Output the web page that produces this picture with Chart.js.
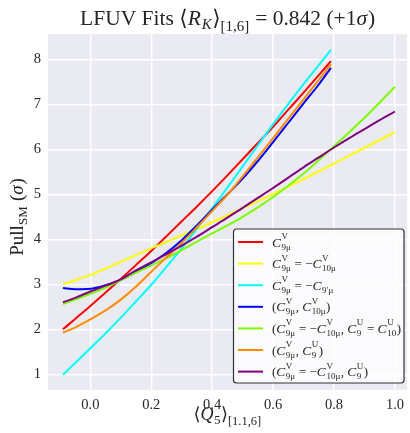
<!DOCTYPE html>
<html>
<head>
<meta charset="utf-8">
<script src="https://cdn.jsdelivr.net/npm/chart.js@4"></script>
<style>
  html, body { margin: 0; padding: 0; background: #ffffff; }
  #wrap { width: 410px; height: 433px; }
</style>
</head>
<body>
<div id="wrap"><canvas id="c" width="410" height="433"></canvas></div>
<script>
// <Q5> values scanned; four fits stop before the end of the range
const qShort = [-0.09, -0.05, 0.00, 0.05, 0.10, 0.15, 0.20, 0.25, 0.30, 0.35, 0.40,
                0.45, 0.50, 0.55, 0.60, 0.65, 0.70, 0.75, 0.79];
const qLong  = [-0.09, -0.05, 0.00, 0.05, 0.10, 0.15, 0.20, 0.25, 0.30, 0.35, 0.40,
                0.45, 0.50, 0.55, 0.60, 0.65, 0.70, 0.75, 0.80, 0.85, 0.90, 0.95, 1.00];

// Pull from the SM (sigma) for each scenario
const pullC9V          = [2.00, 2.23, 2.52, 2.82, 3.12, 3.43, 3.74, 4.07, 4.40, 4.73, 5.07,
                          5.42, 5.78, 6.14, 6.50, 6.88, 7.26, 7.65, 7.96];
const pullC9eqMinusC10 = [3.00, 3.09, 3.21, 3.35, 3.50, 3.65, 3.80, 3.94, 4.09, 4.23, 4.38,
                          4.53, 4.69, 4.85, 5.01, 5.17, 5.34, 5.51, 5.68, 5.86, 6.03, 6.21, 6.38];
const pullC9eqMinusC9p = [0.99, 1.25, 1.58, 1.91, 2.26, 2.62, 2.99, 3.39, 3.80, 4.24, 4.69,
                          5.15, 5.62, 6.09, 6.56, 7.01, 7.45, 7.87, 8.21];
const pullC9C10        = [2.92, 2.89, 2.90, 2.98, 3.10, 3.27, 3.47, 3.70, 3.98, 4.31, 4.66,
                          5.00, 5.35, 5.74, 6.16, 6.59, 7.02, 7.44, 7.81];
const pullC9C10U       = [2.56, 2.66, 2.79, 2.93, 3.09, 3.26, 3.42, 3.58, 3.76, 3.95, 4.13,
                          4.31, 4.50, 4.71, 4.94, 5.19, 5.46, 5.76, 6.07, 6.38, 6.70, 7.04, 7.39];
const pullC9C9U        = [1.93, 2.04, 2.22, 2.42, 2.66, 2.95, 3.28, 3.60, 3.92, 4.27, 4.63,
                          4.99, 5.40, 5.82, 6.25, 6.68, 7.11, 7.54, 7.89];
const pullC9C10C9U     = [2.60, 2.70, 2.84, 2.97, 3.11, 3.31, 3.49, 3.67, 3.86, 4.06, 4.27,
                          4.48, 4.70, 4.92, 5.14, 5.37, 5.60, 5.82, 6.04, 6.25, 6.45, 6.65, 6.84];

// Scenario labels: C{sub}{sup} is a Wilson coefficient with sub/superscript
const scenarioLabels = [
  'C{9μ}{V}',
  'C{9μ}{V} = −C{10μ}{V}',
  'C{9μ}{V} = −C{9′μ}{}',
  '(C{9μ}{V}, C{10μ}{V})',
  '(C{9μ}{V} = −C{10μ}{V}, C{9}{U} = C{10}{U})',
  '(C{9μ}{V}, C{9}{U})',
  '(C{9μ}{V} = −C{10μ}{V}, C{9}{U})'
];

const xTicks = [0.0, 0.2, 0.4, 0.6, 0.8, 1.0];
const yTicks = [1, 2, 3, 4, 5, 6, 7, 8];

const SERIF = '"Liberation Serif", "DejaVu Serif", serif';
const INK = '#262626';

function pts(xs, ys) { return ys.map((y, i) => ({ x: xs[i], y: y })); }

const series = [
  { x: qShort, y: pullC9V,           color: '#ff0000' },
  { x: qLong,  y: pullC9eqMinusC10,  color: '#ffff00' },
  { x: qShort, y: pullC9eqMinusC9p,  color: '#00ffff' },
  { x: qShort, y: pullC9C10,         color: '#0000ff' },
  { x: qLong,  y: pullC9C10U,        color: '#7cfc00' },
  { x: qShort, y: pullC9C9U,         color: '#ff8c00' },
  { x: qLong,  y: pullC9C10C9U,      color: '#800080' }
];

// ---- small rich-text helpers (italics, sub/superscripts) ----
function font(size, it) { return (it ? 'italic ' : '') + size + 'px ' + SERIF; }

function parseLabel(str) {
  const segs = [];
  const re = /C\{([^}]*)\}\{([^}]*)\}/g;
  let last = 0, m;
  while ((m = re.exec(str))) {
    if (m.index > last) segs.push({ t: str.slice(last, m.index) });
    segs.push({ t: 'C', it: true, size: 13.5 });
    segs.push({ sub: m[1], sup: m[2] });
    last = re.lastIndex;
  }
  if (last < str.length) segs.push({ t: str.slice(last) });
  return segs;
}

function segWidth(ctx, s, o) {
  if (s.t !== undefined) {
    const sz = s.size || o.base;
    ctx.font = font(sz, s.it);
    return ctx.measureText(s.t).width + (s.it ? sz * 0.04 : 0);
  }
  ctx.font = font(o.small, s.it);
  const a = s.sub ? ctx.measureText(s.sub).width : 0;
  const b = s.sup ? ctx.measureText(s.sup).width : 0;
  return Math.max(a, b) + 0.5;
}

function richWidth(ctx, segs, o) {
  return segs.reduce((w, s) => w + segWidth(ctx, s, o), 0);
}

function drawRich(ctx, segs, x, y, o) {
  let cx = x;
  ctx.textBaseline = 'alphabetic';
  ctx.textAlign = 'left';
  for (const s of segs) {
    if (s.t !== undefined) {
      ctx.font = font(s.size || o.base, s.it);
      ctx.fillText(s.t, cx, y);
    } else {
      ctx.font = font(o.small, s.it);
      if (s.sub) ctx.fillText(s.sub, cx, y + (s.dy !== undefined ? s.dy : o.subDy));
      if (s.sup) ctx.fillText(s.sup, cx, y + o.supDy);
    }
    cx += segWidth(ctx, s, o);
  }
}

const titleSegs = [
  { t: 'LFUV Fits ' }, { t: '⟨' }, { t: 'R', it: true }, { sub: 'K', it: true },
  { t: '⟩' }, { sub: '[1,6]', dy: 6 }, { t: ' = 0.842 (+1' }, { t: 'σ', it: true }, { t: ')' }
];
const xTitleSegs = [
  { t: '⟨' }, { t: 'Q', it: true }, { sub: '5' }, { t: '⟩' }, { sub: '[1.1,6]', dy: 5 }
];
const yTitleSegs = [
  { t: 'Pull' }, { sub: 'SM' }, { t: ' (' }, { t: 'σ', it: true }, { t: ')' }
];

const decor = {
  id: 'decor',
  beforeDraw(chart) {
    const { ctx, chartArea: a } = chart;
    ctx.save();
    ctx.fillStyle = '#eaeaf2';
    ctx.fillRect(a.left, a.top, a.right - a.left, a.bottom - a.top);
    ctx.restore();
  },
  afterDraw(chart) {
    const { ctx, chartArea: a } = chart;
    const cx = (a.left + a.right) / 2;
    ctx.save();
    ctx.fillStyle = INK;

    // title
    const to = { base: 21.5, small: 15, subDy: 4, supDy: -8 };
    drawRich(ctx, titleSegs, cx - richWidth(ctx, titleSegs, to) / 2, 25, to);

    // x axis title
    const xo = { base: 18, small: 12.5, subDy: 3.5, supDy: -7 };
    drawRich(ctx, xTitleSegs, cx - richWidth(ctx, xTitleSegs, xo) / 2, 420, xo);

    // y axis title (rotated)
    const yo = { base: 19, small: 13, subDy: 3.5, supDy: -7 };
    ctx.save();
    ctx.translate(23, (a.top + a.bottom) / 2 + 5);
    ctx.rotate(-Math.PI / 2);
    drawRich(ctx, yTitleSegs, -richWidth(ctx, yTitleSegs, yo) / 2, 0, yo);
    ctx.restore();

    // legend
    const bx = 233.5, by = 229, bw = 170.5, bh = 154;
    ctx.beginPath();
    ctx.roundRect(bx, by, bw, bh, 3);
    ctx.fillStyle = 'rgba(255,255,255,0.8)';
    ctx.fill();
    ctx.lineWidth = 1.2;
    ctx.strokeStyle = 'rgba(0,0,0,0.8)';
    ctx.stroke();

    const lo = { base: 13, small: 9, subDy: 3, supDy: -7.5 };
    scenarioLabels.forEach((lab, i) => {
      const ry = 242 + i * 21.6;
      ctx.beginPath();
      ctx.moveTo(238, ry);
      ctx.lineTo(263, ry);
      ctx.lineWidth = 2;
      ctx.strokeStyle = series[i].color;
      ctx.stroke();
      ctx.fillStyle = INK;
      drawRich(ctx, parseLabel(lab), 272, ry + 4.5, lo);
    });
    ctx.restore();
  }
};

new Chart(document.getElementById('c'), {
  type: 'line',
  data: {
    datasets: series.map((s, i) => ({
      label: scenarioLabels[i],
      data: pts(s.x, s.y),
      borderColor: s.color,
      backgroundColor: s.color,
      borderWidth: 2,
      pointRadius: 0,
      fill: false,
      cubicInterpolationMode: 'monotone',
      order: -i
    }))
  },
  options: {
    responsive: false,
    animation: false,
    devicePixelRatio: 1,
    events: [],
    layout: { padding: { top: 34, right: 0, bottom: 0, left: 0 } },
    plugins: { legend: { display: false }, tooltip: { enabled: false }, title: { display: false } },
    scales: {
      x: {
        type: 'linear',
        min: -0.139,
        max: 1.04,
        afterBuildTicks: s => { s.ticks = xTicks.map(v => ({ value: v })); },
        afterFit: s => { s.height = 43; },
        ticks: {
          callback: v => v.toFixed(1),
          color: INK,
          font: { family: SERIF, size: 14.5 },
          padding: 6,
          maxRotation: 0,
          autoSkip: false
        },
        grid: { color: '#ffffff', lineWidth: 1.4, drawTicks: false },
        border: { display: false }
      },
      y: {
        min: 0.652,
        max: 8.562,
        afterBuildTicks: s => { s.ticks = yTicks.map(v => ({ value: v })); },
        afterFit: s => { s.width = 48; },
        ticks: {
          callback: v => String(v),
          color: INK,
          font: { family: SERIF, size: 14.5 },
          padding: 7,
          autoSkip: false
        },
        grid: { color: '#ffffff', lineWidth: 1.4, drawTicks: false },
        border: { display: false }
      }
    }
  },
  plugins: [decor]
});
</script>
</body>
</html>
